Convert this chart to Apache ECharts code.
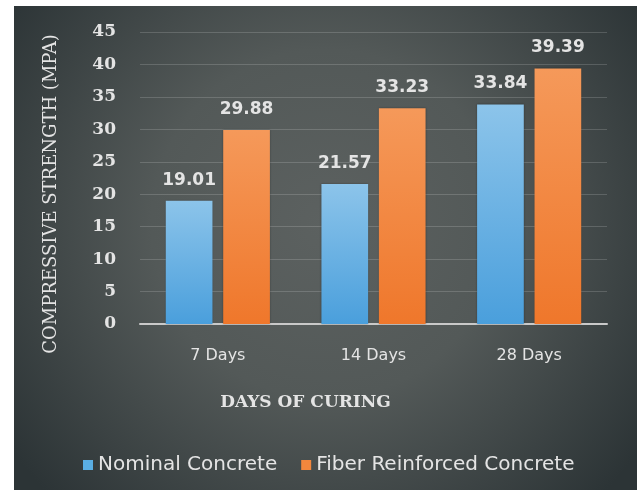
<!DOCTYPE html>
<html>
<head>
<meta charset="utf-8">
<script src="https://cdn.jsdelivr.net/npm/echarts@6/dist/echarts.min.js"></script>
<style>
  html, body { margin: 0; padding: 0; background: #fff; }
  #chart { width: 637px; height: 490px; }
</style>
</head>
<body>
<div id="chart"></div>
<script>
// data
var days = ['7 Days', '14 Days', '28 Days'];
var nominal = [19.01, 21.57, 33.84];
var fiber = [29.88, 33.23, 39.39];
var yTicks = { min: 0, max: 45, step: 5 };

var myChart = echarts.init(document.getElementById('chart'));

var textColor = '#e4e4e4';

var option = {
  backgroundColor: '#ffffff',
  graphic: [{
    type: 'rect',
    z: -10,
    shape: { x: 14, y: 6, width: 623, height: 484 },
    style: {
      fill: new echarts.graphic.RadialGradient(0.5, 0.45, 0.8, [
        { offset: 0, color: '#5c6160' },
        { offset: 0.45, color: '#535958' },
        { offset: 1, color: '#2c3436' }
      ])
    }
  }],
  grid: { left: 140, right: 30, top: 32, bottom: 166 },
  legend: {
    left: 78,
    top: 450,
    icon: 'rect',
    itemWidth: 10,
    itemHeight: 10,
    itemGap: 24,
    textStyle: { color: textColor, fontFamily: 'DejaVu Sans', fontSize: 20 },
    data: [
      { name: 'Nominal Concrete', itemStyle: { color: '#5aaee4' } },
      { name: 'Fiber Reinforced Concrete', itemStyle: { color: '#f2873d' } }
    ]
  },
  xAxis: {
    type: 'category',
    data: days,
    name: 'DAYS OF CURING',
    nameLocation: 'middle',
    nameGap: 70,
    nameTextStyle: {
      color: textColor, fontFamily: 'DejaVu Serif', fontWeight: 'bold', fontSize: 17,
      padding: [0, 136, 0, 0]
    },
    axisLine: { lineStyle: { color: '#c9c9c9', width: 2 } },
    axisTick: { show: false },
    axisLabel: { color: textColor, fontFamily: 'DejaVu Sans', fontSize: 16, margin: 24 }
  },
  yAxis: {
    type: 'value',
    min: yTicks.min,
    max: yTicks.max,
    interval: yTicks.step,
    name: 'COMPRESSIVE STRENGTH (MPA)',
    nameLocation: 'middle',
    nameGap: 80,
    nameTextStyle: {
      color: textColor, fontFamily: 'DejaVu Serif', fontSize: 18,
      padding: [0, 32, 0, 0]
    },
    axisLine: { show: false },
    axisTick: { show: false },
    splitLine: { lineStyle: { color: 'rgba(255,255,255,0.16)', width: 1 } },
    axisLabel: { color: textColor, fontFamily: 'DejaVu Serif', fontWeight: 'bold', fontSize: 17, margin: 24 }
  },
  series: [{
    name: 'Nominal Concrete',
    type: 'bar',
    barWidth: '30%',
    barGap: '23%',
    data: nominal,
    itemStyle: {
      color: new echarts.graphic.LinearGradient(0, 0, 0, 1, [
        { offset: 0, color: '#8cc4ea' },
        { offset: 1, color: '#4a9fdc' }
      ]),
      shadowColor: 'rgba(0,0,0,0.3)',
      shadowBlur: 2
    },
    label: {
      show: true, position: 'top', distance: 12,
      color: textColor, fontFamily: 'DejaVu Sans', fontWeight: 'bold', fontSize: 17
    }
  }, {
    name: 'Fiber Reinforced Concrete',
    type: 'bar',
    barWidth: '30%',
    data: fiber,
    itemStyle: {
      color: new echarts.graphic.LinearGradient(0, 0, 0, 1, [
        { offset: 0, color: '#f5995a' },
        { offset: 1, color: '#ef772b' }
      ]),
      shadowColor: 'rgba(0,0,0,0.3)',
      shadowBlur: 2
    },
    label: {
      show: true, position: 'top', distance: 12,
      color: textColor, fontFamily: 'DejaVu Sans', fontWeight: 'bold', fontSize: 17
    }
  }]
};

myChart.setOption(option);
</script>
</body>
</html>
